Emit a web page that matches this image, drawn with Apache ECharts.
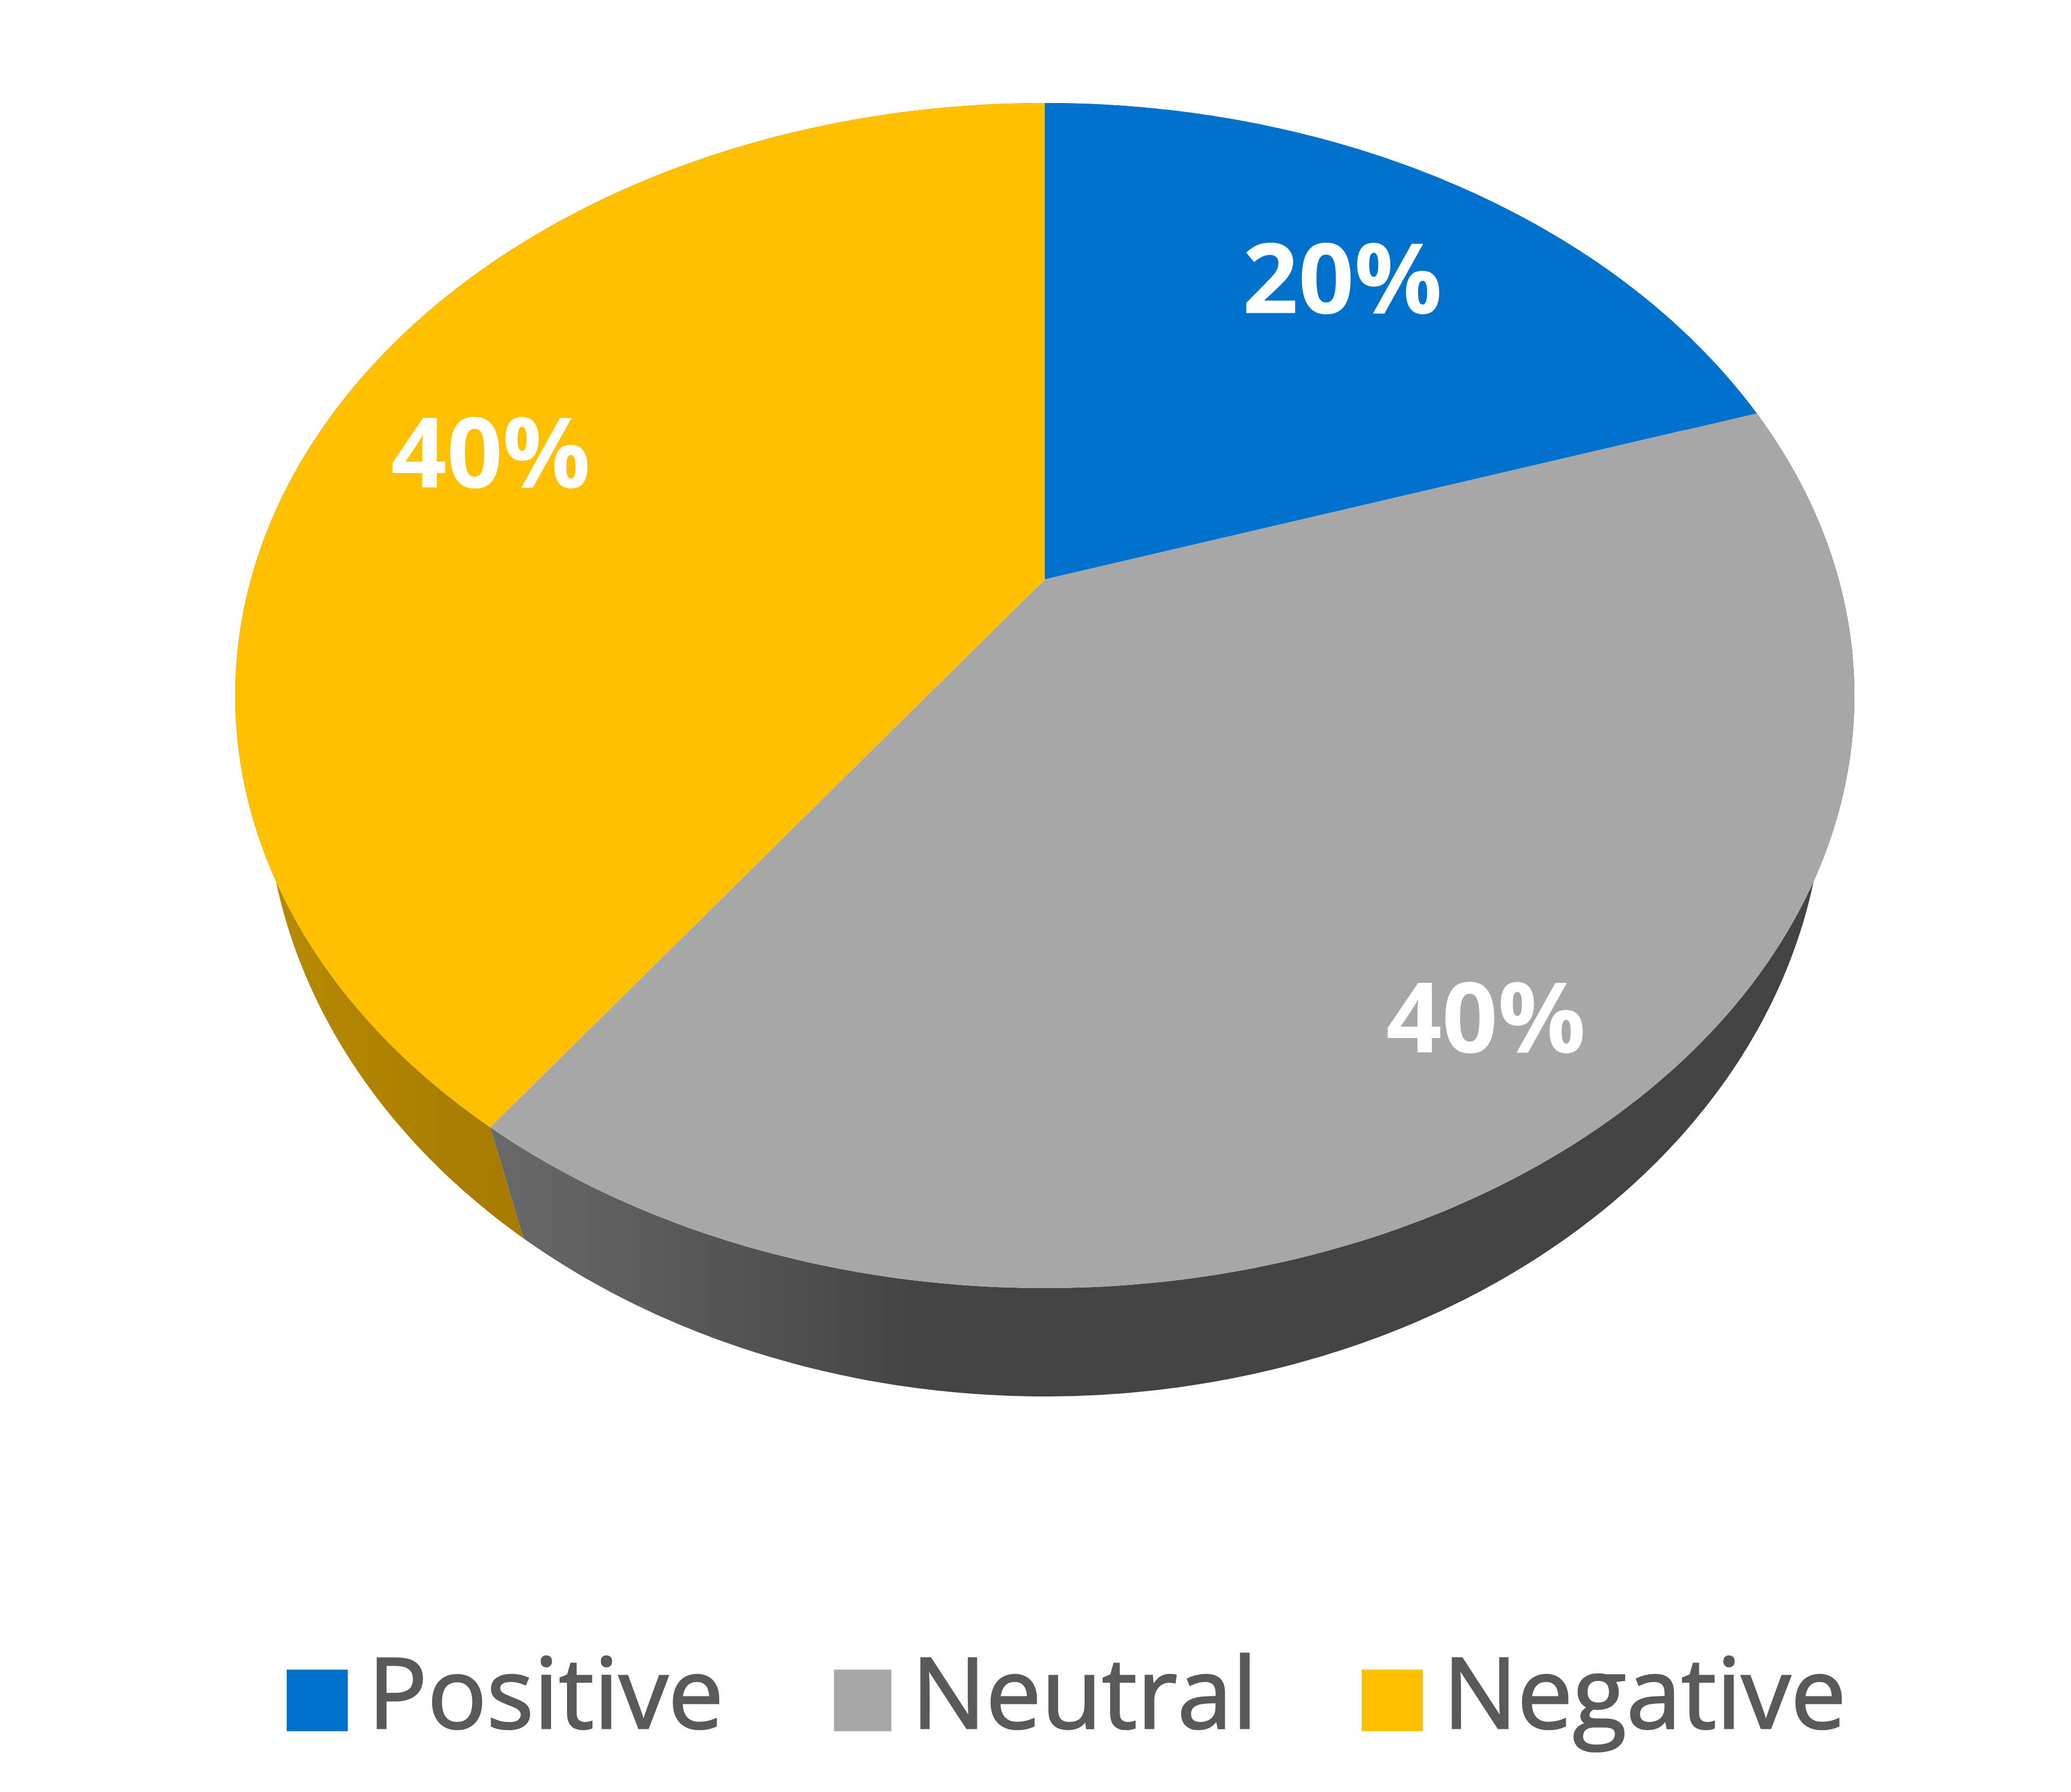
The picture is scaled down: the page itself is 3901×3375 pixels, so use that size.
<!DOCTYPE html>
<html>
<head>
<meta charset="utf-8">
<style>html,body{margin:0;padding:0;background:#fff}#c{width:3901px;height:3375px}</style>
<script src="https://cdn.jsdelivr.net/npm/echarts@6/dist/echarts.min.js"></script>
</head>
<body>
<div id="c"></div>
<script>
const categories = ['Positive', 'Neutral', 'Negative'];
const sharePercent = [20, 40, 40];
const topColors = ['#0172CC', '#A7A7A7', '#FFC000'];
const labelRadii = [0.727, 0.822, 0.768];
const labelTurnShift = [-0.0024, 0, 0];
const legendLefts = [540, 1571, 2565];
const legendSwatchWidths = [115, 108, 115];

const total = sharePercent.reduce((a, b) => a + b, 0);
const topRim = { cx: 1968, cy: 1310, rx: 1525, ry: 1116, tilt: -0.196 };
const lowRim = { cx: 1968, cy: 1470, rx: 1468, ry: 1160, tilt: -0.165 };
const labelDrop = 18;

// perspective projection of a point of the flat unit disc onto a rim ellipse
function project(rim, u, v) {
  const d = 1 + rim.tilt * v;
  return [
    rim.cx + rim.rx * u * Math.sqrt(1 - rim.tilt * rim.tilt) / d,
    rim.cy + rim.ry * (v + rim.tilt) / d
  ];
}
function onRim(rim, turn, r) {
  const a = turn * 2 * Math.PI, k = r === undefined ? 1 : r;
  return project(rim, k * Math.sin(a), -k * Math.cos(a));
}
function arc(rim, t0, t1) {
  const n = Math.max(2, Math.ceil((t1 - t0) * 720)), pts = [];
  for (let i = 0; i <= n; i++) pts.push(onRim(rim, t0 + (t1 - t0) * i / n));
  return pts;
}
function startTurn(i) {
  let s = 0;
  for (let k = 0; k < i; k++) s += sharePercent[k];
  return s / total;
}
const G = (x0, x1, c0, c1) => new echarts.graphic.LinearGradient(x0, 0, x1, 0,
  [{ offset: 0, color: c0 }, { offset: 1, color: c1 }], true);
const wallFills = [
  '#00508F',
  G(930, 1750, '#696969', '#434343'),
  G(520, 990, '#B68A00', '#A57A00')
];

function renderWall(params, api) {
  const i = params.dataIndex;
  const t0 = startTurn(i), t1 = t0 + api.value(0) / total;
  const pts = arc(topRim, t0, t1).concat(arc(lowRim, t0, t1).reverse());
  return { type: 'polygon', shape: { points: pts }, style: { fill: wallFills[i] } };
}
function renderTop(i) {
  return function (params, api) {
    const t0 = startTurn(i), t1 = t0 + api.value(0) / total;
    const pts = [onRim(topRim, 0, 0)].concat(arc(topRim, t0, t1));
    const lab = onRim(topRim, (t0 + t1) / 2 + labelTurnShift[i], labelRadii[i]);
    return {
      type: 'group',
      children: [
        { type: 'polygon', shape: { points: pts }, style: { fill: topColors[i] } },
        {
          type: 'text', z2: 10,
          style: {
            x: lab[0], y: lab[1] + labelDrop, text: Math.round(api.value(0) / total * 100) + '%',
            fill: '#FFFFFF', font: 'bold 184px "Open Sans"',
            align: 'center', verticalAlign: 'middle'
          }
        }
      ]
    };
  };
}

const chart = echarts.init(document.getElementById('c'), null, { renderer: 'canvas' });
chart.setOption({
  animation: false,
  backgroundColor: '#FFFFFF',
  legend: categories.map((name, i) => ({
    data: [name],
    left: legendLefts[i], top: 3108, padding: 0,
    itemWidth: legendSwatchWidths[i], itemHeight: 116,
    icon: 'rect', selectedMode: false,
    textStyle: {
      fontFamily: 'Open Sans', fontSize: 186, color: '#595959',
      textBorderColor: '#595959', textBorderWidth: 3,
      padding: [0, 0, 8, 33]
    }
  })),
  series: [{
    name: 'Rim', type: 'custom', coordinateSystem: 'none', silent: true,
    renderItem: renderWall, data: sharePercent.map(v => [v])
  }].concat(categories.map((name, i) => ({
    name, type: 'custom', coordinateSystem: 'none', silent: true,
    itemStyle: { color: topColors[i] },
    renderItem: renderTop(i), data: [[sharePercent[i]]]
  })))
});
</script>
</body>
</html>
